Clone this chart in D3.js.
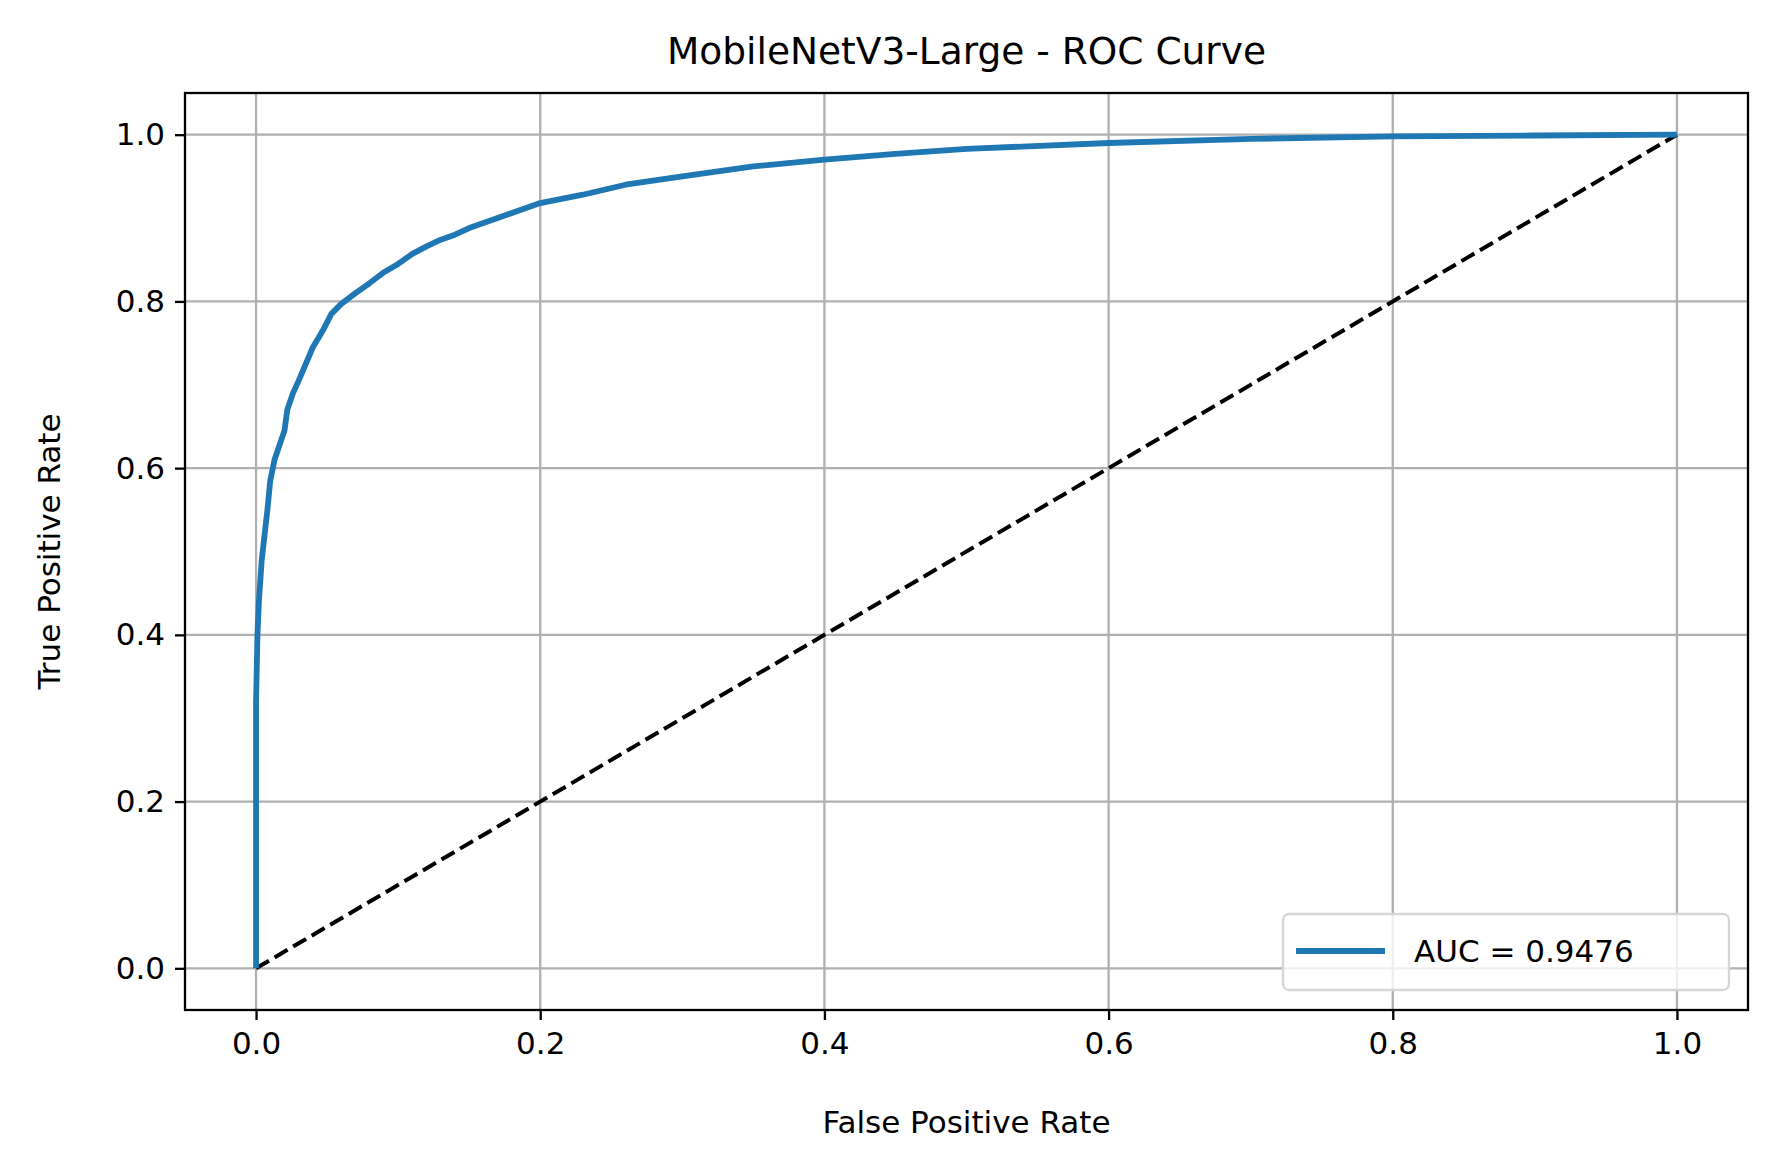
<!DOCTYPE html>
<html><head><meta charset="utf-8">
<script src="https://cdn.jsdelivr.net/npm/d3@7"></script>
<style>body{margin:0;background:#fff}text{font-family:"DejaVu Sans",sans-serif}</style>
</head><body><svg id="chart" width="1770" height="1166"></svg>
<script>
// ROC points
var fpr = [0, 0, 0.001, 0.002, 0.004, 0.006, 0.008, 0.01, 0.013, 0.017, 0.02, 0.022, 0.026, 0.03, 0.035, 0.04, 0.047, 0.053, 0.06, 0.07, 0.08, 0.09, 0.1, 0.11, 0.12, 0.13, 0.14, 0.15, 0.17, 0.19, 0.2, 0.23, 0.26, 0.3, 0.35, 0.4, 0.45, 0.5, 0.6, 0.7, 0.8, 0.9, 1.0];
var tpr = [0, 0.32, 0.40, 0.44, 0.49, 0.52, 0.55, 0.585, 0.61, 0.63, 0.645, 0.67, 0.69, 0.705, 0.725, 0.745, 0.765, 0.785, 0.797, 0.81, 0.822, 0.835, 0.845, 0.857, 0.866, 0.874, 0.88, 0.888, 0.9, 0.912, 0.918, 0.928, 0.94, 0.95, 0.962, 0.97, 0.977, 0.983, 0.99, 0.995, 0.998, 0.999, 1.0];
var ticks = [0, 0.2, 0.4, 0.6, 0.8, 1.0];
var aucLabel = "AUC = 0.9476";

var svg = d3.select("#chart"),
    mLeft = 185, mRight = 1748, mTop = 93, mBottom = 1010,
    fs = 31;

var x = d3.scaleLinear().domain([-0.05, 1.05]).range([mLeft, mRight]);
var y = d3.scaleLinear().domain([-0.05, 1.05]).range([mBottom, mTop]);

// grid
var grid = svg.append("g").attr("stroke", "#b0b0b0").attr("stroke-width", 2.3);
ticks.forEach(function(t) {
    grid.append("line").attr("x1", x(t)).attr("x2", x(t)).attr("y1", mTop).attr("y2", mBottom);
    grid.append("line").attr("y1", y(t)).attr("y2", y(t)).attr("x1", mLeft).attr("x2", mRight);
});

// diagonal
svg.append("line").attr("x1", x(0)).attr("y1", y(0)).attr("x2", x(1)).attr("y2", y(1))
    .attr("stroke", "#000").attr("stroke-width", 4).attr("stroke-dasharray", "15,6.5");

// roc curve
var pts = fpr.map(function(d, i) { return [d, tpr[i]]; });
svg.append("path").datum(pts)
    .attr("fill", "none").attr("stroke", "#1f77b4").attr("stroke-width", 5.8)
    .attr("stroke-linejoin", "round")
    .attr("d", d3.line().x(function(d) { return x(d[0]); }).y(function(d) { return y(d[1]); }));

// axes
var fmt = d3.format(".1f");
var xAxis = svg.append("g").attr("transform", "translate(0," + mBottom + ")")
    .call(d3.axisBottom(x).tickValues(ticks).tickFormat(fmt).tickSize(10).tickPadding(12));
var yAxis = svg.append("g").attr("transform", "translate(" + mLeft + ",0)")
    .call(d3.axisLeft(y).tickValues(ticks).tickFormat(fmt).tickSize(10).tickPadding(10));
[xAxis, yAxis].forEach(function(a) {
    a.select(".domain").remove();
    a.selectAll("line").attr("stroke", "#000").attr("stroke-width", 2.3);
    a.selectAll("text").attr("font-size", fs).attr("fill", "#000")
        .style("font-family", "DejaVu Sans");
});

svg.append("rect").attr("x", mLeft).attr("y", mTop).attr("width", mRight - mLeft).attr("height", mBottom - mTop)
    .attr("fill", "none").attr("stroke", "#000").attr("stroke-width", 2.3);

// labels
svg.append("text").attr("x", (mLeft + mRight) / 2).attr("y", 64).attr("text-anchor", "middle")
    .attr("font-size", 37.5).text("MobileNetV3-Large - ROC Curve");
svg.append("text").attr("x", (mLeft + mRight) / 2).attr("y", 1133).attr("text-anchor", "middle")
    .attr("font-size", fs).text("False Positive Rate");
svg.append("text").attr("transform", "translate(60," + (mTop + mBottom) / 2 + ") rotate(-90)")
    .attr("text-anchor", "middle").attr("font-size", fs).text("True Positive Rate");

// legend
var lg = svg.append("g");
lg.append("rect").attr("x", 1283).attr("y", 914).attr("width", 446).attr("height", 76).attr("rx", 6)
    .attr("fill", "rgba(255,255,255,0.8)").attr("stroke", "#d6d6d6").attr("stroke-width", 2.3);
lg.append("line").attr("x1", 1296).attr("x2", 1385).attr("y1", 951).attr("y2", 951)
    .attr("stroke", "#1f77b4").attr("stroke-width", 5.8);
lg.append("text").attr("x", 1414).attr("y", 962).attr("font-size", fs).text(aucLabel);
</script></body></html>
